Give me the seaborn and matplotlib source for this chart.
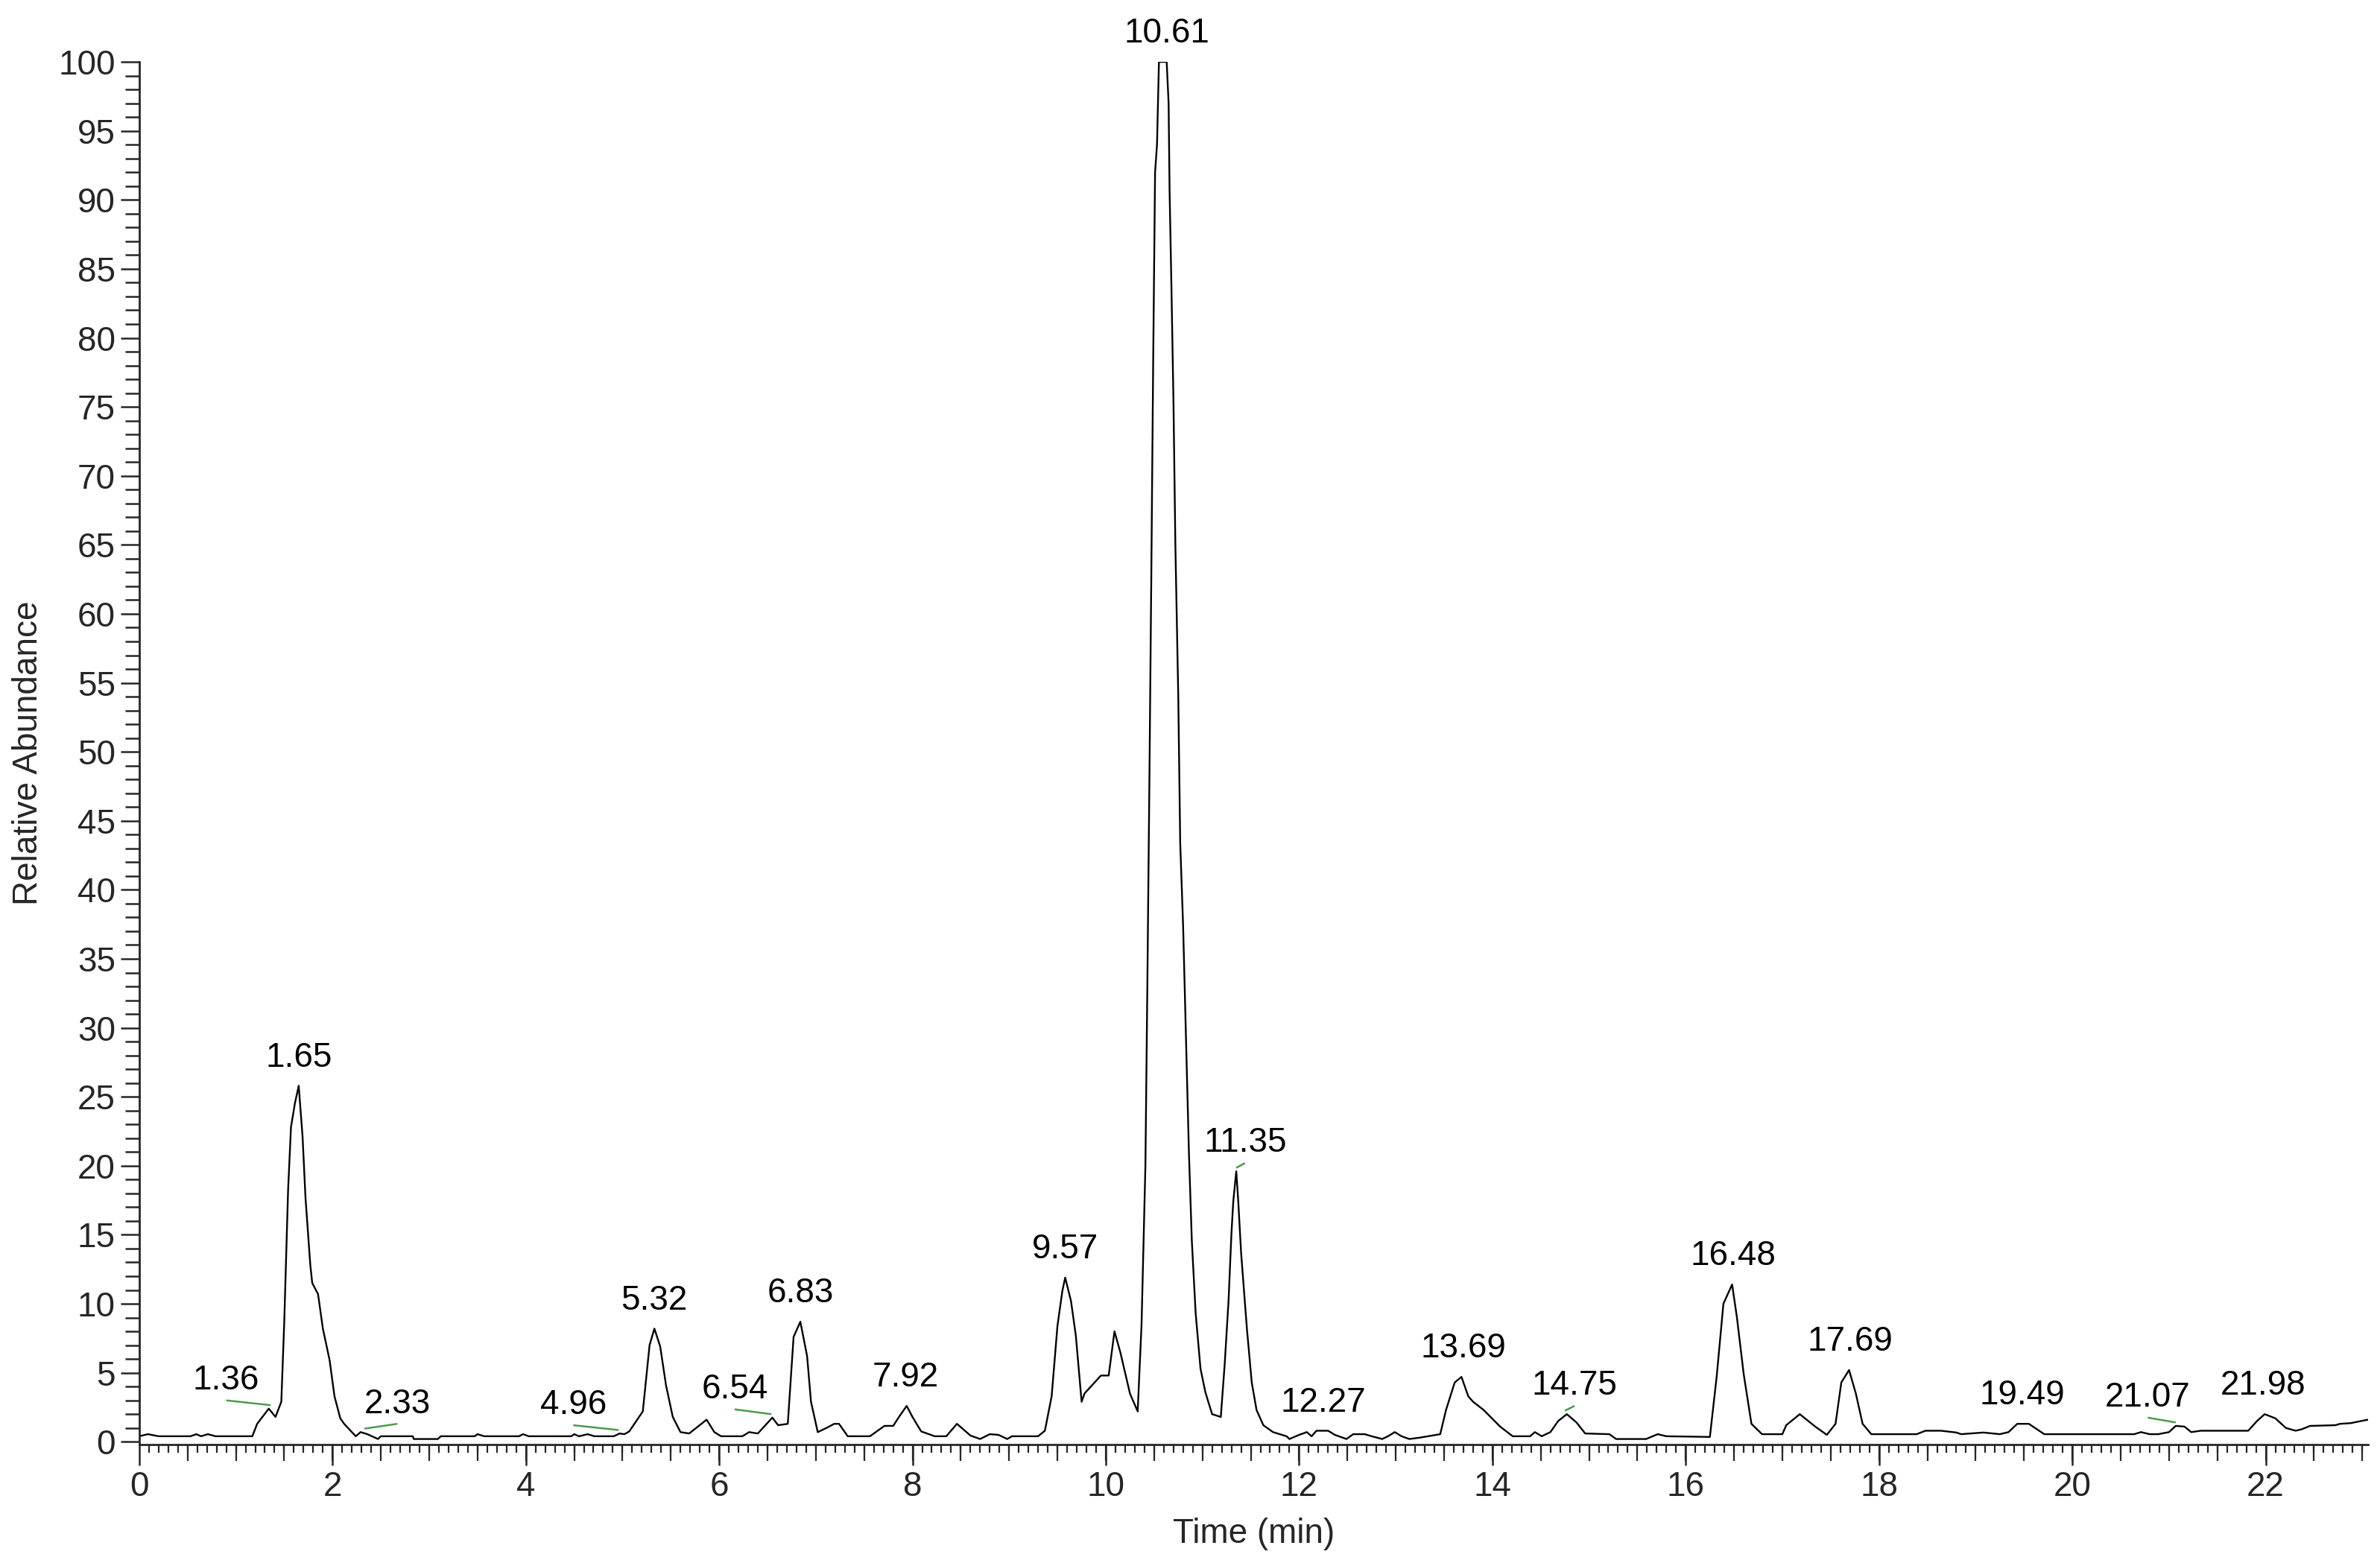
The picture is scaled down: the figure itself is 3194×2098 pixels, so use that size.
import numpy as np
import pandas as pd
import matplotlib
matplotlib.use("Agg")
import matplotlib.pyplot as plt
import seaborn as sns
from matplotlib.ticker import MultipleLocator

# chromatogram trace (time in min, relative abundance in %)
time_min = [
    0.00, 0.09, 0.20, 0.53, 0.59, 0.64, 0.71, 0.79, 1.17, 1.22, 1.34, 1.41, 1.47,
    1.50, 1.52, 1.54, 1.57, 1.61, 1.65, 1.69, 1.72, 1.77, 1.79, 1.85, 1.90, 1.97,
    2.02, 2.08, 2.12, 2.24, 2.29, 2.36, 2.47, 2.50, 2.83, 2.84, 3.09, 3.12, 3.47,
    3.50, 3.57, 3.93, 3.97, 4.03, 4.47, 4.50, 4.55, 4.64, 4.71, 4.91, 4.97, 5.02,
    5.07, 5.21, 5.28, 5.33, 5.39, 5.45, 5.52, 5.60, 5.69, 5.87, 5.95, 6.02, 6.24,
    6.31, 6.40, 6.55, 6.61, 6.71, 6.77, 6.84, 6.91, 6.95, 7.02, 7.11, 7.19, 7.24,
    7.33, 7.56, 7.71, 7.80, 7.87, 7.94, 8.00, 8.09, 8.23, 8.35, 8.46, 8.60, 8.70,
    8.80, 8.89, 8.98, 9.03, 9.30, 9.37, 9.44, 9.50, 9.55, 9.58, 9.64, 9.69, 9.75,
    9.78, 9.95, 10.03, 10.09, 10.15, 10.25, 10.33, 10.37, 10.41, 10.43, 10.45,
    10.47, 10.49, 10.51, 10.53, 10.55, 10.63, 10.65, 10.66, 10.68, 10.70, 10.72,
    10.75, 10.77, 10.80, 10.82, 10.84, 10.86, 10.89, 10.93, 10.98, 11.03, 11.10,
    11.19, 11.23, 11.27, 11.30, 11.32, 11.35, 11.37, 11.40, 11.46, 11.51, 11.56,
    11.63, 11.73, 11.87, 11.90, 12.00, 12.08, 12.13, 12.18, 12.30, 12.37, 12.49,
    12.56, 12.68, 12.75, 12.86, 12.92, 12.99, 13.06, 13.14, 13.25, 13.46, 13.52,
    13.61, 13.68, 13.75, 13.80, 13.91, 14.08, 14.21, 14.39, 14.44, 14.51, 14.60,
    14.68, 14.77, 14.87, 14.96, 15.21, 15.28, 15.59, 15.71, 15.80, 16.25, 16.32,
    16.39, 16.48, 16.53, 16.60, 16.68, 16.79, 17.00, 17.04, 17.18, 17.34, 17.46,
    17.55, 17.61, 17.69, 17.76, 17.83, 17.92, 18.39, 18.48, 18.64, 18.80, 18.85,
    19.08, 19.25, 19.34, 19.43, 19.55, 19.71, 20.64, 20.71, 20.80, 20.89, 21.00,
    21.07, 21.16, 21.23, 21.33, 21.82, 21.91, 21.99, 22.10, 22.21, 22.31, 22.37,
    22.46, 22.72, 22.77, 22.88, 23.02, 23.06,
]
abundance = [
    0.40, 0.55, 0.40, 0.40, 0.55, 0.40, 0.55, 0.40, 0.40, 1.30, 2.40, 1.80, 2.90,
    8.6, 13.3, 18.2, 22.8, 24.5, 25.8, 22.1, 17.7, 12.8, 11.5, 10.7, 8.2, 5.9,
    3.3, 1.7, 1.3, 0.4, 0.7, 0.55, 0.2, 0.4, 0.4, 0.2, 0.2, 0.4, 0.4,
    0.55, 0.4, 0.4, 0.55, 0.4, 0.4, 0.55, 0.4, 0.55, 0.4, 0.4, 0.6, 0.55,
    0.75, 2.2, 7.0, 8.2, 6.9, 4.1, 1.8, 0.7, 0.6, 1.6, 0.7, 0.4, 0.4,
    0.7, 0.6, 1.75, 1.2, 1.3, 7.6, 8.7, 6.2, 2.9, 0.7, 1.0, 1.3, 1.3,
    0.4, 0.4, 1.15, 1.15, 1.9, 2.6, 1.8, 0.75, 0.4, 0.4, 1.3, 0.45, 0.2,
    0.55, 0.5, 0.2, 0.4, 0.4, 0.8, 3.3, 8.4, 10.9, 11.9, 10.2, 7.7, 2.9,
    3.5, 4.8, 4.8, 8.0, 6.5, 3.5, 2.2, 8.5, 20.0, 33.0, 47.0,
    62.0, 78.0, 92.0, 94.0, 100.0, 100.0, 97.0, 90.7, 83.4, 75.5, 65.0,
    54.0, 43.4, 37.4, 32.0, 26.5, 21.0, 14.6, 9.3, 5.3, 3.6, 2.0,
    1.8, 5.6, 10.2, 15.1, 17.5, 19.6, 17.5, 13.7, 8.2, 4.3, 2.3,
    1.2, 0.7, 0.4, 0.2, 0.5, 0.7, 0.4, 0.8, 0.8, 0.5, 0.2,
    0.55, 0.55, 0.4, 0.2, 0.4, 0.7, 0.4, 0.2, 0.3, 0.55, 2.3,
    4.3, 4.7, 3.3, 2.9, 2.3, 1.1, 0.4, 0.4, 0.7, 0.4, 0.7,
    1.5, 2.0, 1.4, 0.6, 0.55, 0.2, 0.2, 0.55, 0.4, 0.35, 4.7,
    10.0, 11.4, 9.0, 4.9, 1.3, 0.55, 0.55, 1.2, 2.0, 1.1, 0.5,
    1.3, 4.3, 5.2, 3.5, 1.3, 0.55, 0.55, 0.8, 0.8, 0.67, 0.55,
    0.67, 0.55, 0.7, 1.3, 1.3, 0.55, 0.55, 0.7, 0.55, 0.55, 0.7,
    1.15, 1.1, 0.7, 0.8, 0.8, 1.5, 2.0, 1.7, 1.0, 0.8, 0.9,
    1.15, 1.2, 1.3, 1.35, 1.55, 1.6,
]

# labelled retention times
peak_rt = [1.36, 1.65, 2.33, 4.96, 5.32, 6.54, 6.83, 7.92, 9.57, 10.61, 11.35,
           12.27, 13.69, 14.75, 16.48, 17.69, 19.49, 21.07, 21.98]
# horizontal shift of each label away from its peak (min)
label_shift = [-0.46, 0.0, 0.34, -0.47, 0.01, -0.38, 0.01, 0.01, 0.01, 0.02, 0.09,
               -0.02, 0.01, 0.1, 0.01, 0.01, -0.01, -0.29, -0.01]

df = pd.DataFrame({"Time (min)": time_min, "Relative Abundance": abundance})

fig = plt.figure(figsize=(15.97, 10.49), dpi=200)
sns.set_style("ticks")
plt.rcParams["font.family"] = ["Liberation Sans", "DejaVu Sans"]
ax = fig.add_axes([0.0585, 0.0758, 0.9365, 0.8846])

sns.lineplot(data=df, x="Time (min)", y="Relative Abundance", ax=ax,
             color="black", linewidth=0.85, estimator=None, sort=False)

ax.set_xlim(0, 23.06)
ax.set_ylim(-0.2, 100)
sns.despine(ax=ax)
for side in ["left", "bottom"]:
    ax.spines[side].set_linewidth(1.0)

fs = 16.5
ax.xaxis.set_major_locator(MultipleLocator(2))
ax.xaxis.set_minor_locator(MultipleLocator(0.1))
ax.yaxis.set_major_locator(MultipleLocator(5))
ax.yaxis.set_minor_locator(MultipleLocator(1))
ax.tick_params(axis="x", which="major", length=10, width=0.9, pad=2.5, labelsize=fs)
ax.tick_params(axis="x", which="minor", length=3.8, width=0.8)
ax.tick_params(axis="y", which="major", length=9, width=0.9, pad=2.5, labelsize=fs)
ax.tick_params(axis="y", which="minor", length=7, width=0.9)

# medium ticks every 0.5 min
sec = ax.secondary_xaxis("bottom")
sec.set_xticks(np.arange(0.5, 23.06, 0.5))
sec.set_xticklabels([])
sec.tick_params(length=7.8, width=0.8)
sec.spines["bottom"].set_visible(False)

ax.set_xlabel("Time (min)", fontsize=fs)
ax.set_ylabel("Relative Abundance", fontsize=fs)
ax.xaxis.set_label_coords(0.5, -0.053)
ax.yaxis.set_label_coords(-0.0425, 0.5)

# peak labels with small green connectors for the shifted ones
t_arr = np.array(time_min)
a_arr = np.array(abundance)
for rt, dx in zip(peak_rt, label_shift):
    win = (t_arr >= rt - 0.045) & (t_arr <= rt + 0.045)
    apex = a_arr[win].max() if win.any() else np.interp(rt, t_arr, a_arr)
    ax.text(rt + dx, apex + 0.85, f"{rt:.2f}", ha="center", va="bottom",
            fontsize=fs, color="black", clip_on=False)
    if abs(dx) > 0.05:
        ax.plot([rt + dx, rt], [apex + 0.6, apex + 0.25], color="#4f9a4f",
                linewidth=0.9, solid_capstyle="butt", clip_on=False)

fig.savefig("out.png", dpi=200, facecolor="white")
plt.close(fig)
